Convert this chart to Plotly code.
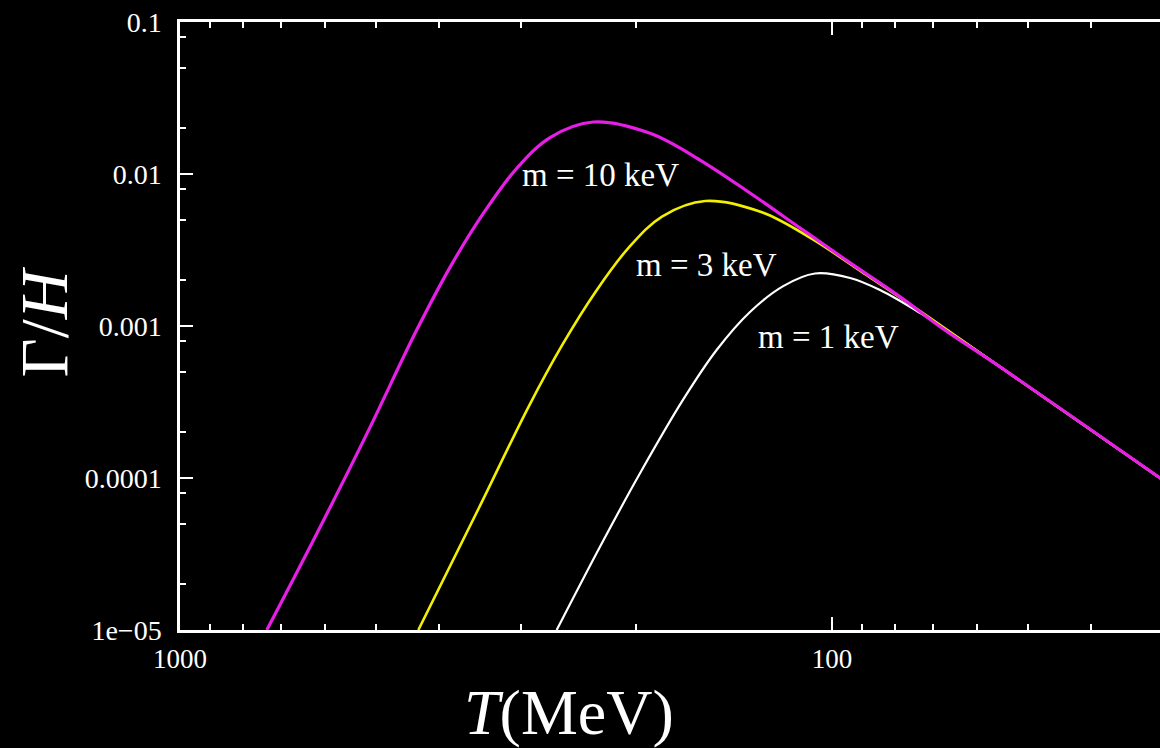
import math
import plotly.graph_objects as go

# ---- data (T in MeV, Gamma/H) ----
T_10 = [736, 617, 517, 433.5, 385, 342.6, 304.6, 270.7, 232.3, 190.1, 159.4, 133.6,
        111.9, 93.8, 78.7, 68.3, 55.3, 31.4, 30]
G_10 = [1.0e-5, 4.3e-5, 1.95e-4, 9.4e-4, 2.45e-3, 5.5e-3, 1.087e-2, 1.738e-2,
        2.198e-2, 1.853e-2, 1.236e-2, 7.50e-3, 4.41e-3, 2.60e-3, 1.56e-3, 9.9e-4,
        5.40e-4, 1.0e-4, 8.7e-5]

T_3 = [431, 348.3, 291.9, 259.5, 230.7, 205.0, 182.3, 156.4, 128.1, 107.3, 89.9, 73.3,
       55.3, 31.4, 30]
G_3 = [1.0e-5, 6.3e-5, 2.95e-4, 7.45e-4, 1.67e-3, 3.28e-3, 5.25e-3, 6.64e-3, 5.60e-3,
       3.74e-3, 2.26e-3, 1.255e-3, 5.40e-4, 1.0e-4, 8.7e-5]

T_1 = [264.4, 226.9, 197.0, 169.0, 150.3, 133.6, 118.8, 106.2, 93.8, 84.4, 73.3, 63.6,
       55.3, 31.4, 30]
G_1 = [1.0e-5, 3.53e-5, 1.074e-4, 3.3e-4, 6.95e-4, 1.236e-3, 1.83e-3, 2.215e-3,
       2.07e-3, 1.725e-3, 1.22e-3, 8.2e-4, 5.40e-4, 1.0e-4, 8.7e-5]

x_tickvals = [1000, 100]
x_ticktext = ["1000", "100"]
x_minor = [900, 800, 700, 600, 500, 400, 300, 200, 90, 80, 70, 60, 50, 40, 30]
y_tickvals = [1e-5, 1e-4, 1e-3, 1e-2, 1e-1]
y_ticktext = ["1e\u221205", "0.0001", "0.001", "0.01", "0.1"]
y_minor = [2e-5, 5e-5, 8e-5, 2e-4, 5e-4, 8e-4, 2e-3, 5e-3, 8e-3, 2e-2, 5e-2, 8e-2]

labels = [("m = 10 keV", 226.9, 0.00985), ("m = 3 keV", 155.8, 0.00252),
          ("m = 1 keV", 101.4, 0.000847)]

X_RANGE = (1000, 31.4)
Y_RANGE = (1e-5, 0.1)

SERIF = "Liberation Serif, Times New Roman, serif"

fig = go.Figure()
fig.add_trace(go.Scatter(x=T_1, y=G_1, mode="lines", line=dict(color="#ffffff", width=2.2, shape="spline"),
                         name="m = 1 keV"))
fig.add_trace(go.Scatter(x=T_3, y=G_3, mode="lines", line=dict(color="#f2f000", width=2.6, shape="spline"),
                         name="m = 3 keV"))
fig.add_trace(go.Scatter(x=T_10, y=G_10, mode="lines", line=dict(color="#e61ee6", width=3.2, shape="spline"),
                         name="m = 10 keV"))

for txt, tx, gy in labels:
    fig.add_annotation(x=math.log10(tx), y=math.log10(gy), xref="x", yref="y", text=txt,
                       showarrow=False, font=dict(family=SERIF, size=33, color="white"))

fig.add_annotation(x=0.397, y=-0.136, xref="paper", yref="paper", text="<i>T</i>(MeV)",
                   xanchor="center", yanchor="middle",
                   showarrow=False, font=dict(family=SERIF, size=64, color="white"))
fig.add_annotation(x=-0.139, y=0.507, xref="paper", yref="paper", text="\u0393/<i>H</i>",
                   xanchor="center", yanchor="middle",
                   textangle=-90, showarrow=False, font=dict(family=SERIF, size=68, color="white"))

axis_common = dict(
    showgrid=False, zeroline=False, showline=True, linecolor="white", linewidth=2.5,
    ticks="inside", ticklen=13, tickwidth=2, tickcolor="white",
)

fig.update_xaxes(type="log", range=[math.log10(X_RANGE[0]), math.log10(X_RANGE[1])],
                 tickmode="array", tickvals=x_tickvals, ticktext=x_ticktext, mirror="allticks",
                 ticklabelstandoff=3, tickfont=dict(family=SERIF, size=27, color="white"),
                 minor=dict(tickmode="array", tickvals=x_minor, ticks="inside", ticklen=6,
                            tickwidth=2, tickcolor="white", showgrid=False),
                 **axis_common)
fig.update_yaxes(type="log", range=[math.log10(Y_RANGE[0]), math.log10(Y_RANGE[1])],
                 tickmode="array", tickvals=y_tickvals, ticktext=y_ticktext, mirror=False,
                 ticklabelstandoff=10, tickfont=dict(family=SERIF, size=28, color="white"),
                 minor=dict(tickmode="array", tickvals=y_minor, ticks="inside", ticklen=6,
                            tickwidth=2, tickcolor="white", showgrid=False),
                 **axis_common)

fig.update_layout(width=1160, height=748, paper_bgcolor="black", plot_bgcolor="black",
                  margin=dict(l=180, r=0, t=22, b=118), showlegend=False)

fig.write_html("out.html")
